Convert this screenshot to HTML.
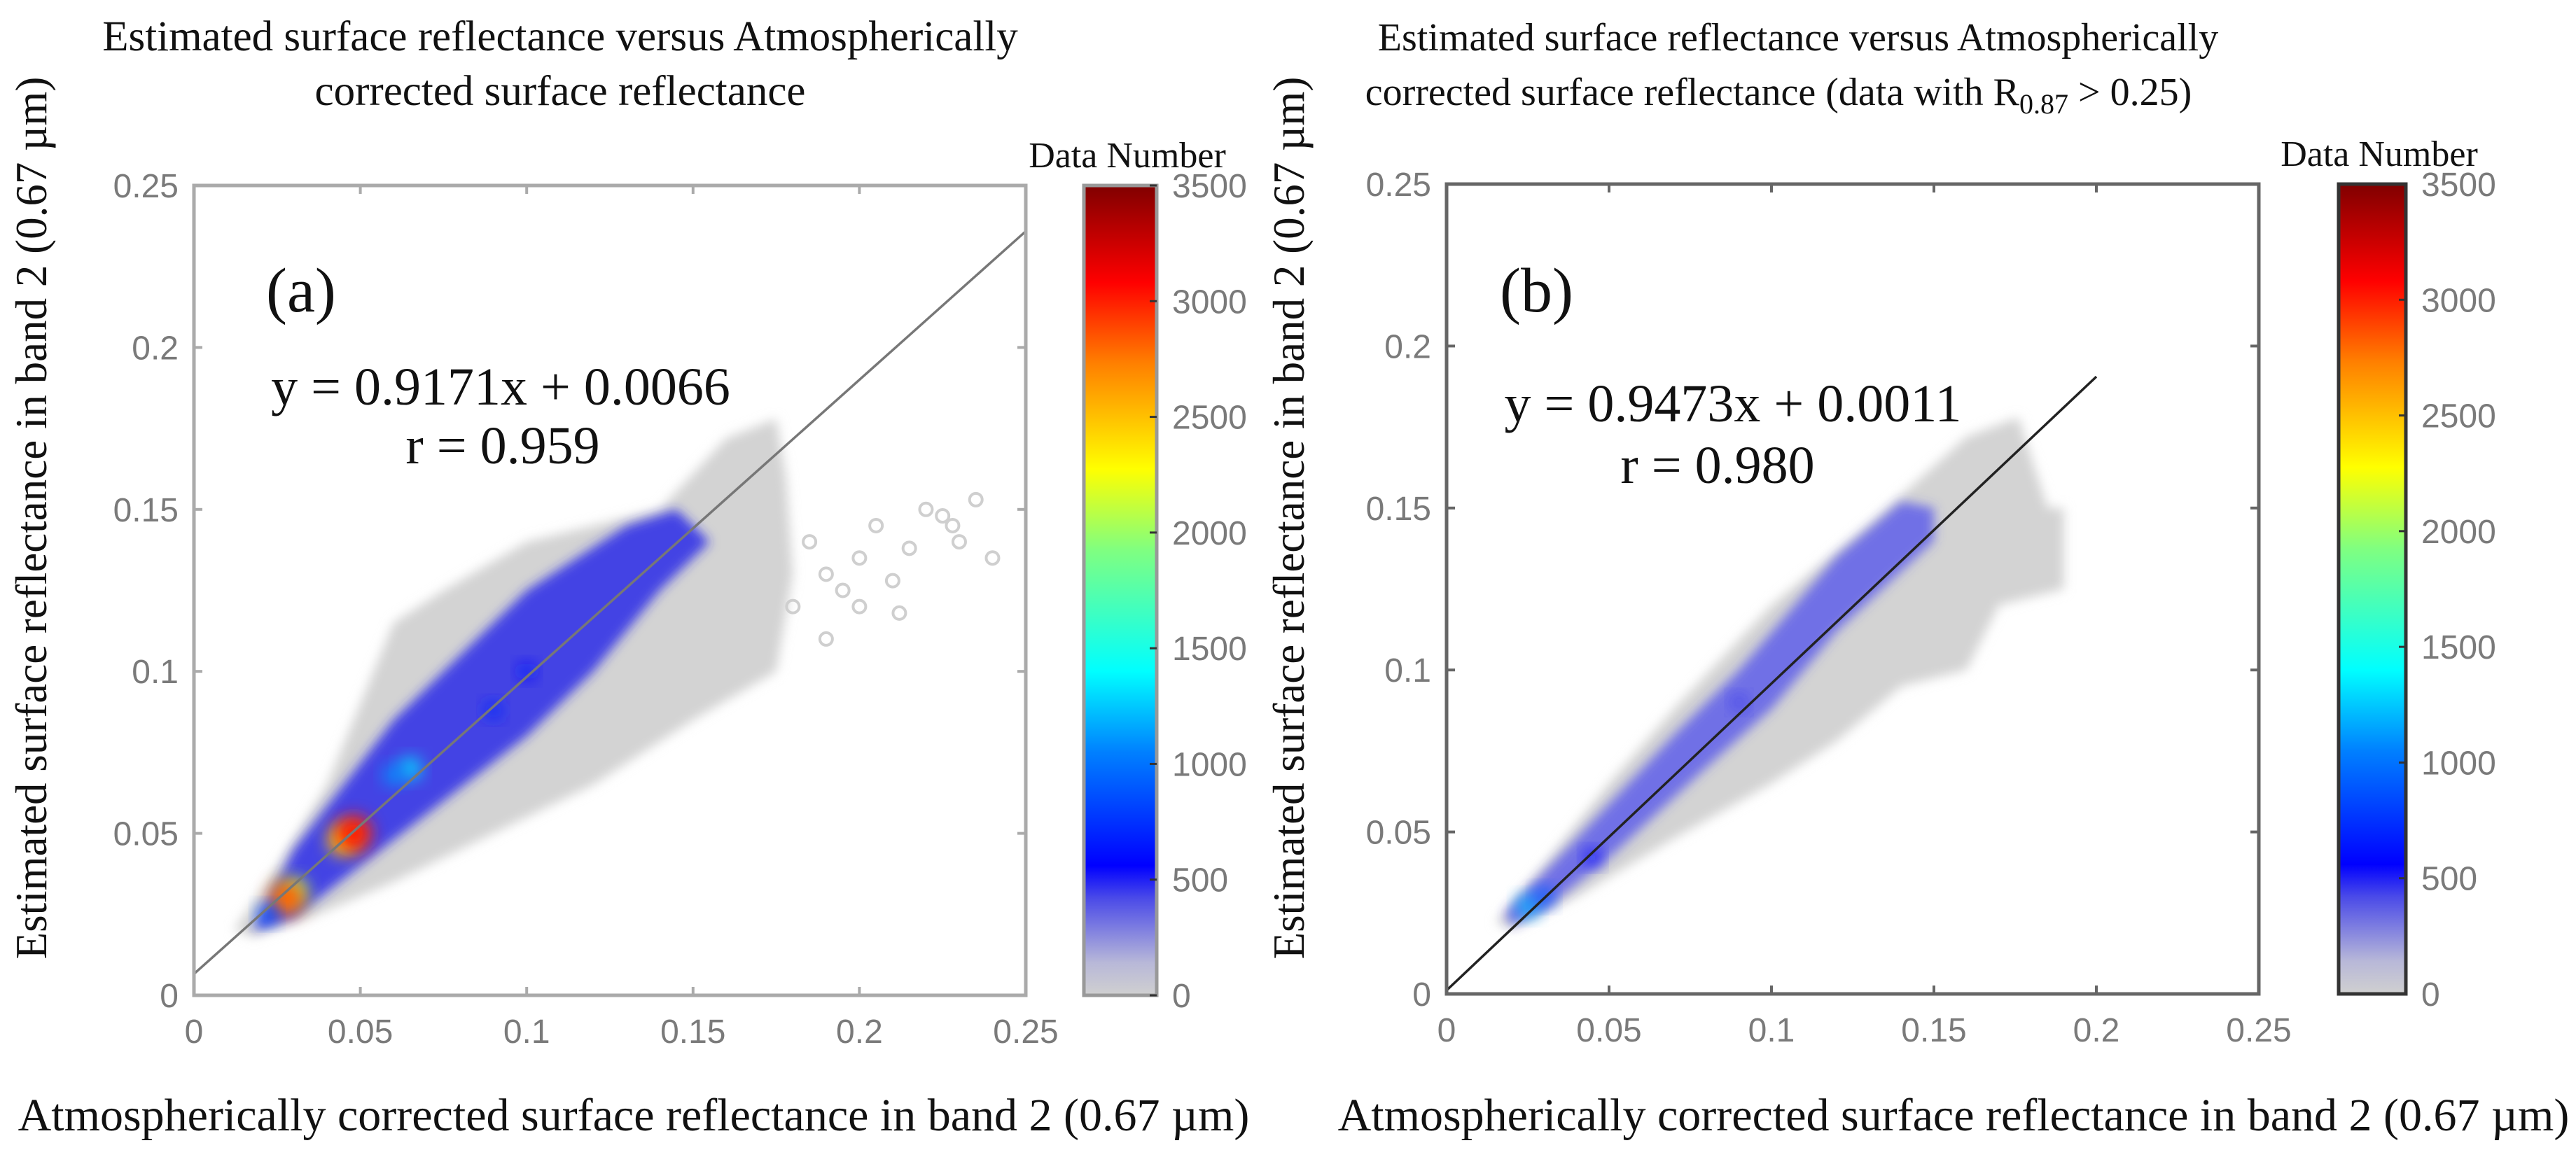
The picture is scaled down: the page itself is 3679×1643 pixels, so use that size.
<!DOCTYPE html>
<html><head><meta charset="utf-8"><style>
html,body{margin:0;padding:0;background:#fff}
svg{display:block}
.tk{font-family:"Liberation Sans",sans-serif;font-size:48px;fill:#7a7a7a}
.sr{font-family:"Liberation Serif",serif;fill:#111}
</style></head><body>
<svg id="fig" xmlns="http://www.w3.org/2000/svg" width="3679" height="1643" viewBox="0 0 3679 1643">
<defs>
<filter id="blur" x="-20%" y="-20%" width="140%" height="140%"><feGaussianBlur stdDeviation="8"/></filter>
<filter id="blur2" x="-50%" y="-50%" width="200%" height="200%"><feGaussianBlur stdDeviation="12"/></filter>
<linearGradient id="jet" x1="0" y1="1" x2="0" y2="0">
<stop offset="0" stop-color="#d0d0d0"/><stop offset="0.04" stop-color="#b8b8d8"/><stop offset="0.12" stop-color="#4a4ae8"/><stop offset="0.16" stop-color="#0000ff"/>
<stop offset="0.3" stop-color="#0080ff"/><stop offset="0.4" stop-color="#00ffff"/><stop offset="0.55" stop-color="#80ff80"/>
<stop offset="0.65" stop-color="#ffff00"/><stop offset="0.78" stop-color="#ff8000"/><stop offset="0.88" stop-color="#ff0000"/><stop offset="1" stop-color="#800000"/>
</linearGradient>
</defs>
<g id="root"></g>
</svg>
<script>
// ---- data ----
const xTicks=[0,0.05,0.1,0.15,0.2,0.25];
const xTickLabels=["0","0.05","0.1","0.15","0.2","0.25"];
const yTicks=[0,0.05,0.1,0.15,0.2,0.25];
const yTickLabels=["0","0.05","0.1","0.15","0.2","0.25"];
const cbTicks=[0,500,1000,1500,2000,2500,3000,3500];
const cbMax=3500;
// panel a
const aFit=[0.9171,0.0066]; const aFitRange=[0,0.25];
const aGrayX=[0.012,0.025,0.04,0.05,0.06,0.075,0.1,0.14,0.16,0.175,0.178,0.18,0.175,0.15,0.12,0.09,0.06,0.035,0.018];
const aGrayY=[0.02,0.04,0.065,0.09,0.115,0.125,0.14,0.15,0.172,0.178,0.16,0.13,0.1,0.085,0.065,0.05,0.035,0.024,0.018];
const aOutX=[0.185,0.19,0.2,0.205,0.21,0.215,0.22,0.228,0.235,0.24,0.195,0.2,0.212,0.225,0.23,0.18,0.19];
const aOutY=[0.14,0.13,0.135,0.145,0.128,0.138,0.15,0.145,0.153,0.135,0.125,0.12,0.118,0.148,0.14,0.12,0.11];
const aBlueX=[0.018,0.03,0.045,0.06,0.08,0.1,0.13,0.145,0.155,0.14,0.12,0.1,0.075,0.05,0.03];
const aBlueY=[0.02,0.045,0.065,0.085,0.105,0.125,0.145,0.15,0.14,0.125,0.1,0.08,0.06,0.04,0.024];
const aSpotX=[0.09,0.1,0.065,0.06,0.045,0.048,0.03,0.028,0.022];
const aSpotY=[0.088,0.1,0.07,0.068,0.048,0.05,0.032,0.03,0.025];
const aSpotV=[700,650,1300,1100,2400,3000,2000,2800,900];
// panel b
const bFit=[0.9473,0.0011]; const bFitRange=[0,0.2];
const bGrayX=[0.015,0.03,0.05,0.07,0.1,0.13,0.16,0.176,0.185,0.19,0.19,0.17,0.16,0.14,0.12,0.1,0.07,0.04,0.02];
const bGrayY=[0.022,0.04,0.065,0.088,0.12,0.145,0.172,0.178,0.15,0.15,0.125,0.12,0.1,0.095,0.078,0.065,0.048,0.03,0.02];
const bBlueX=[0.018,0.04,0.07,0.09,0.12,0.14,0.15,0.15,0.12,0.1,0.08,0.05,0.03,0.02];
const bBlueY=[0.025,0.048,0.08,0.1,0.135,0.152,0.15,0.14,0.112,0.088,0.07,0.042,0.026,0.021];
const bSpotX=[0.025,0.03,0.045,0.09];
const bSpotY=[0.027,0.03,0.042,0.09];
const bSpotV=[1200,900,600,450];

const NS="http://www.w3.org/2000/svg";
const root=document.getElementById('root');
function el(tag,attrs,parent){const e=document.createElementNS(NS,tag);for(const k in attrs)e.setAttribute(k,attrs[k]);(parent||root).appendChild(e);return e;}
function jet(v){const t=v/cbMax;
 const st=[[0,[208,208,208]],[0.04,[184,184,216]],[0.12,[74,74,232]],[0.16,[0,0,255]],[0.3,[0,128,255]],[0.4,[0,255,255]],[0.55,[128,255,128]],[0.65,[255,255,0]],[0.78,[255,128,0]],[0.88,[255,0,0]],[1,[128,0,0]]];
 for(let i=1;i<st.length;i++){if(t<=st[i][0]){const a=st[i-1],b=st[i];const f=(t-a[0])/(b[0]-a[0]);return 'rgb('+a[1].map((c,j)=>Math.round(c+(b[1][j]-c)*f)).join(',')+')';}}return 'rgb(128,0,0)';}

function panel(P){
 const g=el('g',{});
 
 
 const sx=v=>P.x0+(v-0)/(0.25)*(P.x1-P.x0);
 const sy=v=>P.y1-(v-0)/(0.25)*(P.y1-P.y0);
 const gp=el('polygon',{points:P.gx.map((x,i)=>sx(x)+','+sy(P.gy[i])).join(' '),fill:'#d3d3d3',filter:'url(#blur)'},g);
 
 
 if(P.ox){P.ox.forEach((x,i)=>{const c=el('circle',{cx:sx(x),cy:sy(P.oy[i]),r:9,fill:'none',stroke:'#cfcfcf','stroke-width':4},g);
  
  });}
 const bp=el('polygon',{points:P.bx.map((x,i)=>sx(x)+','+sy(P.by[i])).join(' '),fill:P.blue,'fill-opacity':P.blueOp,filter:'url(#blur)'},g);
 
 
 P.spx.forEach((x,i)=>{const r=8+P.spv[i]/170;const c=el('circle',{cx:sx(x),cy:sy(P.spy[i]),r:r,fill:jet(P.spv[i]),filter:'url(#blur2)'},g);
  
  });
 const fl=el('line',{x1:sx(P.fr[0]),y1:sy(P.fit[0]*P.fr[0]+P.fit[1]),x2:sx(P.fr[1]),y2:sy(P.fit[0]*P.fr[1]+P.fit[1]),stroke:P.lineColor,'stroke-width':3.5},g);
 
 
 const bx=el('rect',{x:P.x0,y:P.y0,width:P.x1-P.x0,height:P.y1-P.y0,fill:'none',stroke:P.axisColor,'stroke-width':5},g);
 
 
 xTicks.forEach((v,i)=>{const x=sx(v);
  el('line',{x1:x,y1:P.y1,x2:x,y2:P.y1-12,stroke:P.axisColor,'stroke-width':4},g);
  el('line',{x1:x,y1:P.y0,x2:x,y2:P.y0+12,stroke:P.axisColor,'stroke-width':4},g);
  const t=el('text',{x:x,y:P.y1+68,'text-anchor':'middle',class:'tk'},g);t.textContent=xTickLabels[i];
  
  });
 yTicks.forEach((v,i)=>{const y=sy(v);
  el('line',{x1:P.x0,y1:y,x2:P.x0+12,y2:y,stroke:P.axisColor,'stroke-width':4},g);
  el('line',{x1:P.x1,y1:y,x2:P.x1-12,y2:y,stroke:P.axisColor,'stroke-width':4},g);
  const t=el('text',{x:P.x0-22,y:y+17,'text-anchor':'end',class:'tk'},g);t.textContent=yTickLabels[i];
  
  });
 const cb=el('rect',{x:P.cx0,y:P.y0,width:P.cx1-P.cx0,height:P.y1-P.y0,fill:'url(#jet)',stroke:P.cbStroke,'stroke-width':5},g);
 
 
 cbTicks.forEach(v=>{const y=P.y1-v/cbMax*(P.y1-P.y0);
  el('line',{x1:P.cx1,y1:y,x2:P.cx1-10,y2:y,stroke:'#333','stroke-width':3},g);
  const t=el('text',{x:P.cx1+22,y:y+17,class:'tk'},g);t.textContent=String(v);
  
  });
 const dn=el('text',{x:(P.cx0+P.cx1)/2+10,y:P.y0-26,'text-anchor':'middle',class:'sr','font-size':52},g);dn.textContent='Data Number';
 
 
 return {g,sx,sy};
}

panel({name:'panel-a',x0:277,x1:1465,y0:265,y1:1422,cx0:1548,cx1:1652,gx:aGrayX,gy:aGrayY,ox:aOutX,oy:aOutY,bx:aBlueX,by:aBlueY,spx:aSpotX,spy:aSpotY,spv:aSpotV,fit:aFit,fr:aFitRange,lineColor:'#777',axisColor:'#aaa',cbStroke:'#999',blue:'#2a2ae8',blueOp:0.85});
panel({name:'panel-b',x0:2066,x1:3226,y0:263,y1:1420,cx0:3340,cx1:3436,gx:bGrayX,gy:bGrayY,bx:bBlueX,by:bBlueY,spx:bSpotX,spy:bSpotY,spv:bSpotV,fit:bFit,fr:bFitRange,lineColor:'#222',axisColor:'#666',cbStroke:'#333',blue:'#4646ee',blueOp:0.7});

function txt(x,y,s,size,name,anchor,rot){const t=el('text',{x:x,y:y,class:'sr','font-size':size,'text-anchor':anchor||'middle'});
 if(rot)t.setAttribute('transform','rotate(-90 '+x+' '+y+')');t.textContent=s;
 
 return t;}
txt(800,72,'Estimated surface reflectance versus Atmospherically',61,'title-a-line1');
txt(800,150,'corrected surface reflectance',61,'title-a-line2');
txt(2568,72,'Estimated surface reflectance versus Atmospherically',56,'title-b-line1');
const t2=txt(2540,150,'',56,'title-b-line2');
t2.innerHTML='corrected surface reflectance (data with R<tspan font-size="40" dy="12">0.87</tspan><tspan dy="-12"> &gt; 0.25)</tspan>';
txt(905,1615,'Atmospherically corrected surface reflectance in band 2 (0.67 µm)',66,'x-axis-title-a');
txt(2790,1615,'Atmospherically corrected surface reflectance in band 2 (0.67 µm)',66,'x-axis-title-b');
txt(66,740,'Estimated surface reflectance in band 2 (0.67 µm)',63,'y-axis-title-a','middle',true);
txt(1862,740,'Estimated surface reflectance in band 2 (0.67 µm)',63,'y-axis-title-b','middle',true);
txt(380,445,'(a)',90,'panel-label-a','start');
txt(715,578,'y = 0.9171x  + 0.0066',76,'equation-a');
txt(718,662,'r = 0.959',76,'correlation-a');
txt(2142,445,'(b)',90,'panel-label-b','start');
txt(2475,602,'y = 0.9473x  + 0.0011',76,'equation-b');
txt(2453,690,'r = 0.980',76,'correlation-b');
</script>
</body></html>
